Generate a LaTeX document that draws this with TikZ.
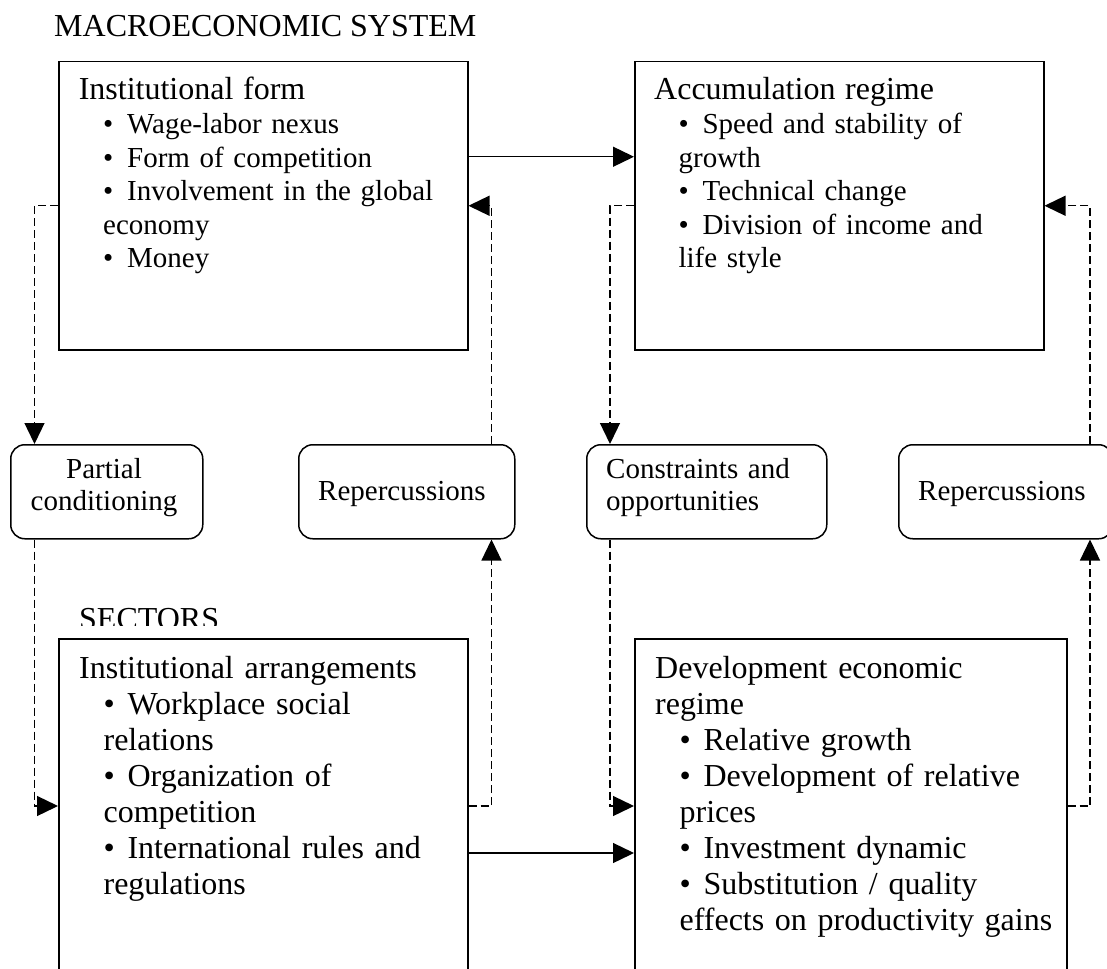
\documentclass[tikz,border=0pt]{standalone}
\usepackage{fontspec}
\setmainfont{Liberation Serif}
\usetikzlibrary{arrows.meta}

% bullet line and continuation line inside the upper boxes (smaller type)
\newcommand\bl{\hspace*{24.4pt}\textbullet\hspace{13.8pt}}
% bullet line inside the lower boxes (heading-size type)
\newcommand\bL{\hspace*{24.4pt}\textbullet\hspace{12.8pt}}
\newcommand\cl{\hspace*{24.4pt}}
% headings of the upper boxes are set larger than their bullet lines
\newcommand\boxhead[1]{{\fontsize{32}{20}\selectfont #1}}

\tikzset{
  bigbox/.style={draw, line width=1.5pt, inner sep=0pt, anchor=north west},
  smallbox/.style={draw, line width=1.5pt, rounded corners=14pt, inner sep=0pt, anchor=north west},
  head/.style={font=\fontsize{32}{33.6}\selectfont, inner sep=0pt, anchor=base west},
  bodytop/.style={font=\fontsize{29}{33.6}\selectfont, inner sep=0pt, anchor=base west, text width=420pt, align=left},
  bodylow/.style={font=\fontsize{32}{36}\selectfont, inner sep=0pt, anchor=base west, text width=430pt, align=left},
  tag/.style={font=\fontsize{29}{32}\selectfont, inner sep=0pt, text width=220pt},
  solidflow/.style={line width=1.3pt, -{Triangle[length=21pt,width=20pt]}},
  dashflow/.style={line width=1.3pt, dash pattern=on 8pt off 4pt, -{Triangle[length=21pt,width=20pt]}},
}

\begin{document}
\begin{tikzpicture}[x=1pt, y=-1pt]
  \useasboundingbox (0,0) rectangle (1107,968);
  \clip (0,0) rectangle (1107,968);

  % headings
  \node[head] (macro) at (54,37) {MACROECONOMIC SYSTEM};
  \begin{scope}
    \clip (0,590) rectangle (300,625);
    \node[head] (sectors) at (79,629) {SECTORS};
  \end{scope}

  % main boxes
  \node[bigbox, minimum width=409pt, minimum height=288pt] (inst)    at (58,61)  {};
  \node[bigbox, minimum width=409pt, minimum height=288pt] (accum)   at (634,61) {};
  \node[bigbox, minimum width=409pt, minimum height=400pt] (arrange) at (58,638) {};
  \node[bigbox, minimum width=432pt, minimum height=400pt] (devel)   at (634,638) {};

  % link boxes
  \node[smallbox, minimum width=192pt, minimum height=94pt] (partial) at (10,444)  {};
  \node[smallbox, minimum width=216pt, minimum height=94pt] (rep1)    at (298,444) {};
  \node[smallbox, minimum width=240pt, minimum height=94pt] (constr)  at (586,444) {};
  \node[smallbox, minimum width=214pt, minimum height=94pt] (rep2)    at (898,444) {};

  % box contents
  \node[bodytop] (instT) at (78.6,100) {\boxhead{Institutional form}\\
    \bl Wage-labor nexus\\
    \bl Form of competition\\
    \bl Involvement in the global\\
    \cl economy\\
    \bl Money};
  \node[bodytop] (accumT) at (654,100) {\boxhead{Accumulation regime}\\
    \bl Speed and stability of\\
    \cl growth\\
    \bl Technical change\\
    \bl Division of income and\\
    \cl life style};
  \node[bodylow] (arrangeT) at (79,678) {Institutional arrangements\\
    \bL Workplace social\\
    \cl relations\\
    \bL Organization of\\
    \cl competition\\
    \bL International rules and\\
    \cl regulations};
  \node[bodylow] (develT) at (655,678) {Development economic\\
    regime\\
    \bL Relative growth\\
    \bL Development of relative\\
    \cl prices\\
    \bL Investment dynamic\\
    \bL Substitution / quality\\
    \cl effects on productivity gains};

  \node[tag, text width=190pt, align=center, anchor=base] (partialT) at (104,478) {Partial\\conditioning};
  \node[tag, align=left, anchor=base west] (rep1T)   at (318,500) {Repercussions};
  \node[tag, align=left, anchor=base west] (constrT) at (606,478) {Constraints and\\opportunities};
  \node[tag, align=left, anchor=base west] (rep2T)   at (918,500) {Repercussions};

  % solid influences
  \draw[solidflow] ([yshift=49pt]inst.east) -- ([yshift=49pt]accum.west);
  \draw[solidflow] ([yshift=-215pt]arrange.north east) -- ([yshift=-215pt]devel.north west);

  % dashed feedback loops
  \draw[dashflow] (inst.west) -| ([xshift=24.5pt]partial.north west);
  \draw[dashflow] ([xshift=24.5pt]partial.south west) |- ([yshift=-168pt]arrange.north west);
  \draw[dashflow] ([yshift=-168pt]arrange.north east) -| ([xshift=-24pt]rep1.south east);
  \draw[dashflow] ([xshift=-24pt]rep1.north east) |- (inst.east);

  \draw[dashflow] (accum.west) -| ([xshift=24pt]constr.north west);
  \draw[dashflow] ([xshift=24pt]constr.south west) |- ([yshift=-168pt]devel.north west);
  \draw[dashflow] ([yshift=-168pt]devel.north east) -| ([xshift=192pt]rep2.south west);
  \draw[dashflow] ([xshift=192pt]rep2.north west) |- (accum.east);
\end{tikzpicture}
\end{document}
